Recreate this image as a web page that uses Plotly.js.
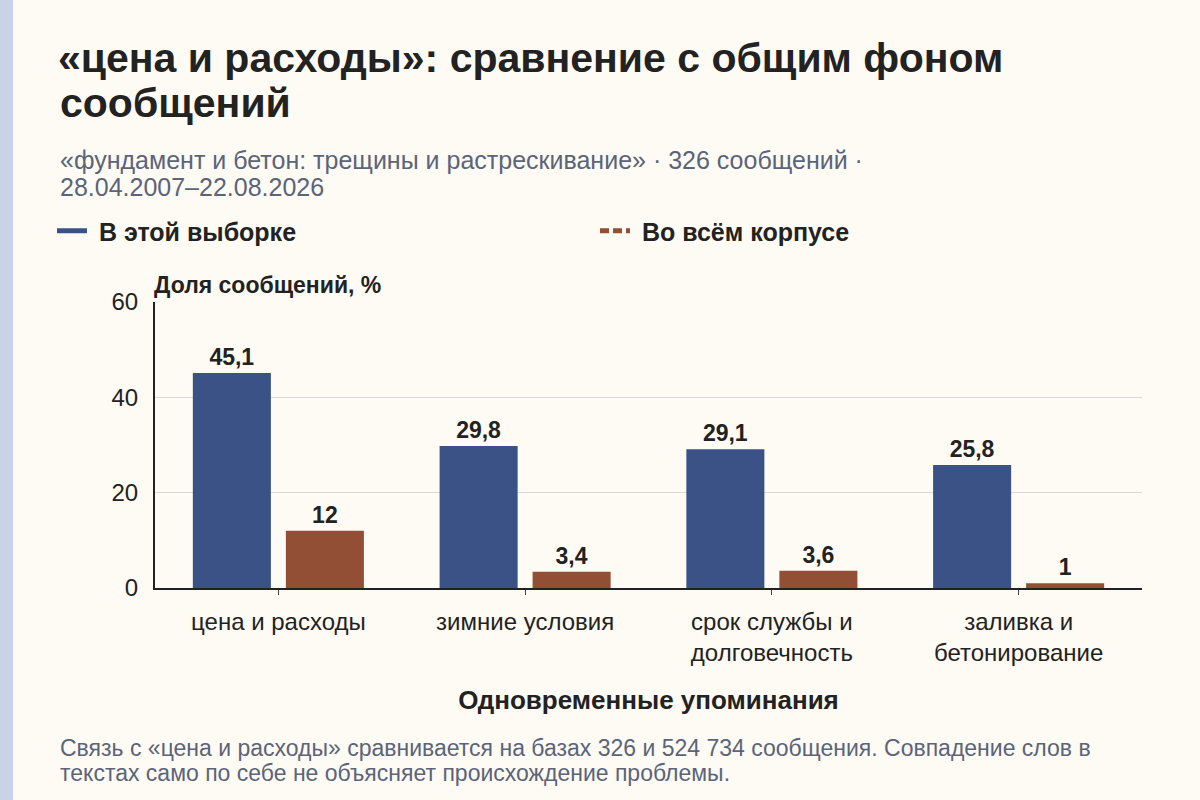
<!DOCTYPE html>
<html>
<head>
<meta charset="utf-8">
<script src="https://cdn.plot.ly/plotly-3.0.1.min.js"></script>
<style>
  html, body { margin: 0; padding: 0; background: #fdfbf4; }
  #chart { width: 1200px; height: 800px; }
</style>
</head>
<body>
<div id="chart"></div>
<script>
const categories = ['цена и расходы', 'зимние условия', 'срок службы и<br>долговечность', 'заливка и<br>бетонирование'];
const sampleValues = [45.1, 29.8, 29.1, 25.8];
const corpusValues = [12, 3.4, 3.6, 1];
const seriesNames = ['В этой выборке', 'Во всём корпусе'];
const yTicks = [0, 20, 40, 60];

const titleLines = ['«цена и расходы»: сравнение с общим фоном', 'сообщений'];
const subtitleLines = ['«фундамент и бетон: трещины и растрескивание» · 326 сообщений ·', '28.04.2007–22.08.2026'];
const noteLines = [
  'Связь с «цена и расходы» сравнивается на базах 326 и 524 734 сообщения. Совпадение слов в',
  'текстах само по себе не объясняет происхождение проблемы.'
];

const blue = '#3b5286';
const brown = '#924f36';
const ink = '#222';
const slate = '#5b6479';
const fontFam = '"Liberation Sans", Arial, sans-serif';

// plot area in pixels
const L = 155, R = 58, T = 302, B = 212;
const plotW = 1200 - L - R;
const plotH = 800 - T - B;
const px = x => (x - L) / plotW;
const py = y => (800 - B - y) / plotH;

const fmt = v => String(v).replace('.', ',');
const barText = {size: 23, color: ink, family: fontFam, weight: 700};

const traces = [
  {
    type: 'bar', x: categories, y: sampleValues, name: seriesNames[0],
    marker: {color: blue}, showlegend: false,
    text: sampleValues.map(fmt), textposition: 'outside', cliponaxis: false,
    textfont: barText, hoverinfo: 'skip'
  },
  {
    type: 'bar', x: categories, y: corpusValues, name: seriesNames[1],
    marker: {color: brown}, showlegend: false,
    text: corpusValues.map(fmt), textposition: 'outside', cliponaxis: false,
    textfont: barText, hoverinfo: 'skip'
  },
  // legend entries drawn as lines, one legend each
  {
    type: 'scatter', mode: 'lines', x: [null], y: [null], name: '\u00a0' + seriesNames[0],
    line: {color: blue, width: 5}, legend: 'legend'
  },
  {
    type: 'scatter', mode: 'lines', x: [null], y: [null], name: '\u00a0' + seriesNames[1],
    line: {color: brown, width: 5, dash: '9px,4px'}, legend: 'legend2'
  }
];

const legendBase = {
  orientation: 'h', xref: 'container', yref: 'container',
  xanchor: 'left', yanchor: 'middle', y: 1 - 231 / 800,
  itemwidth: 30,
  font: {size: 25, color: ink, family: fontFam, weight: 700},
  bgcolor: 'rgba(0,0,0,0)', itemclick: false
};

function line(text, x, y, size, color, bold) {
  return {
    text: text, xref: 'paper', yref: 'paper', x: px(x), y: py(y),
    xanchor: 'left', yanchor: 'middle', showarrow: false,
    font: {size: size, color: color, family: fontFam, weight: bold ? 700 : 400}
  };
}

const annotations = [
  line(titleLines[1], 58, 103, 41, ink, true),
  line(subtitleLines[0], 58, 160, 25, slate, false),
  line(subtitleLines[1], 58, 187, 25, slate, false),
  line('Доля сообщений, %', 152, 285, 23, ink, true),
  line(noteLines[0], 58, 748, 23, slate, false),
  line(noteLines[1], 58, 773, 23, slate, false)
];

const layout = {
  width: 1200, height: 800,
  paper_bgcolor: '#fdfbf4', plot_bgcolor: '#fdfbf4',
  font: {family: fontFam, color: ink},
  margin: {l: L, r: R, t: T, b: B},
  barmode: 'group', bargap: 0.246, bargroupgap: 0.161,
  title: {
    text: titleLines[0],
    font: {size: 41, color: ink, family: fontFam, weight: 700},
    xref: 'container', yref: 'container',
    x: 58 / 1200, xanchor: 'left', y: 1 - 58 / 800, yanchor: 'middle'
  },
  showlegend: true,
  legend: Object.assign({}, legendBase, {x: 52 / 1200}),
  legend2: Object.assign({}, legendBase, {x: 595 / 1200}),
  xaxis: {
    type: 'category', showgrid: false, showline: true, linecolor: ink, linewidth: 2,
    ticks: 'outside', ticklen: 5, tickcolor: '#444', tickwidth: 1,
    ticklabelstandoff: 6,
    tickfont: {size: 24, color: ink}, fixedrange: true,
    title: {text: 'Одновременные упоминания', font: {size: 26, color: ink, weight: 700}, standoff: 26}
  },
  yaxis: {
    range: [0, 60], tickvals: yTicks, showgrid: true, gridcolor: '#d9d9d9', gridwidth: 1,
    showline: true, linecolor: ink, linewidth: 2, zeroline: false,
    ticks: '', ticklabelstandoff: 10, tickfont: {size: 24, color: ink}, fixedrange: true
  },
  shapes: [
    {
      type: 'rect', xref: 'paper', yref: 'paper', layer: 'below',
      x0: px(0), x1: px(13), y0: py(800), y1: py(0),
      fillcolor: '#c9d3e8', line: {width: 0}
    }
  ],
  annotations: annotations
};

Plotly.newPlot('chart', traces, layout, {displayModeBar: false, staticPlot: true});
</script>
</body>
</html>
